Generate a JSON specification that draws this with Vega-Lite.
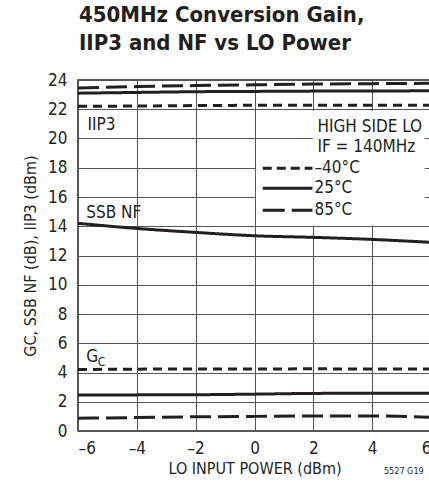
{
  "$schema": "https://vega.github.io/schema/vega-lite/v6.json",
  "autosize": {"type": "none"},
  "padding": {"left": 78, "top": 80, "right": 0, "bottom": 56},
  "width": 353,
  "height": 351,
  "background": "white",
  "title": {
    "text": ["450MHz Conversion Gain,", "IIP3 and NF vs LO Power"],
    "anchor": "start",
    "frame": "group",
    "font": "DejaVu Sans Condensed, DejaVu Sans, sans-serif",
    "fontSize": 22,
    "fontWeight": "bold",
    "lineHeight": 28,
    "color": "#231f20",
    "offset": 16,
    "dx": 1
  },
  "config": {
    "font": "DejaVu Sans Condensed, DejaVu Sans, sans-serif",
    "view": {"stroke": "#231f20", "strokeWidth": 1.5},
    "axis": {
      "domain": false,
      "ticks": false,
      "grid": true,
      "gridColor": "#555555",
      "gridWidth": 1,
      "gridOpacity": 1,
      "labelFontSize": 17,
      "labelColor": "#231f20",
      "labelOverlap": false,
      "titleFontSize": 16,
      "titleFontWeight": "normal",
      "titleColor": "#231f20"
    },
    "axisX": {"tickCount": 6, "labelPadding": 9, "titlePadding": 4},
    "axisY": {"tickCount": 12, "labelPadding": 11, "titlePadding": 9},
    "text": {"font": "DejaVu Sans Condensed, DejaVu Sans, sans-serif", "color": "#231f20"}
  },
  "datasets": {
    "curves": [
      {"series": "IIP3", "temp": "-40°C", "lo": -6, "v": 22.2},
      {"series": "IIP3", "temp": "-40°C", "lo": -4, "v": 22.22},
      {"series": "IIP3", "temp": "-40°C", "lo": -2, "v": 22.25},
      {"series": "IIP3", "temp": "-40°C", "lo": 0, "v": 22.27},
      {"series": "IIP3", "temp": "-40°C", "lo": 2, "v": 22.28},
      {"series": "IIP3", "temp": "-40°C", "lo": 4, "v": 22.28},
      {"series": "IIP3", "temp": "-40°C", "lo": 6, "v": 22.27},
      {"series": "IIP3", "temp": "25°C", "lo": -6, "v": 23.1},
      {"series": "IIP3", "temp": "25°C", "lo": -4, "v": 23.15},
      {"series": "IIP3", "temp": "25°C", "lo": -2, "v": 23.2},
      {"series": "IIP3", "temp": "25°C", "lo": 0, "v": 23.22},
      {"series": "IIP3", "temp": "25°C", "lo": 2, "v": 23.24},
      {"series": "IIP3", "temp": "25°C", "lo": 4, "v": 23.25},
      {"series": "IIP3", "temp": "25°C", "lo": 6, "v": 23.26},
      {"series": "IIP3", "temp": "85°C", "lo": -6, "v": 23.45},
      {"series": "IIP3", "temp": "85°C", "lo": -4, "v": 23.55},
      {"series": "IIP3", "temp": "85°C", "lo": -2, "v": 23.62},
      {"series": "IIP3", "temp": "85°C", "lo": 0, "v": 23.67},
      {"series": "IIP3", "temp": "85°C", "lo": 2, "v": 23.72},
      {"series": "IIP3", "temp": "85°C", "lo": 4, "v": 23.75},
      {"series": "IIP3", "temp": "85°C", "lo": 6, "v": 23.77},
      {"series": "NF", "temp": "25°C", "lo": -6, "v": 14.2},
      {"series": "NF", "temp": "25°C", "lo": -4, "v": 13.85},
      {"series": "NF", "temp": "25°C", "lo": -2, "v": 13.58},
      {"series": "NF", "temp": "25°C", "lo": 0, "v": 13.35},
      {"series": "NF", "temp": "25°C", "lo": 2, "v": 13.24},
      {"series": "NF", "temp": "25°C", "lo": 4, "v": 13.1},
      {"series": "NF", "temp": "25°C", "lo": 6, "v": 12.9},
      {"series": "GC", "temp": "-40°C", "lo": -6, "v": 4.2},
      {"series": "GC", "temp": "-40°C", "lo": -4, "v": 4.23},
      {"series": "GC", "temp": "-40°C", "lo": -2, "v": 4.24},
      {"series": "GC", "temp": "-40°C", "lo": 0, "v": 4.24},
      {"series": "GC", "temp": "-40°C", "lo": 2, "v": 4.25},
      {"series": "GC", "temp": "-40°C", "lo": 4, "v": 4.24},
      {"series": "GC", "temp": "-40°C", "lo": 6, "v": 4.24},
      {"series": "GC", "temp": "25°C", "lo": -6, "v": 2.46},
      {"series": "GC", "temp": "25°C", "lo": -4, "v": 2.47},
      {"series": "GC", "temp": "25°C", "lo": -2, "v": 2.48},
      {"series": "GC", "temp": "25°C", "lo": 0, "v": 2.52},
      {"series": "GC", "temp": "25°C", "lo": 2, "v": 2.57},
      {"series": "GC", "temp": "25°C", "lo": 4, "v": 2.58},
      {"series": "GC", "temp": "25°C", "lo": 6, "v": 2.58},
      {"series": "GC", "temp": "85°C", "lo": -6, "v": 0.87},
      {"series": "GC", "temp": "85°C", "lo": -4, "v": 0.92},
      {"series": "GC", "temp": "85°C", "lo": -2, "v": 0.97},
      {"series": "GC", "temp": "85°C", "lo": 0, "v": 1.0},
      {"series": "GC", "temp": "85°C", "lo": 2, "v": 1.03},
      {"series": "GC", "temp": "85°C", "lo": 4, "v": 1.03},
      {"series": "GC", "temp": "85°C", "lo": 6, "v": 0.94}
    ],
    "legend": [
      {"temp": "-40°C", "label": "–40°C"},
      {"temp": "25°C", "label": "25°C"},
      {"temp": "85°C", "label": "85°C"}
    ]
  },
  "layer": [
    {
      "data": {"name": "curves"},
      "mark": {"type": "line", "interpolate": "monotone", "strokeWidth": 3, "color": "#231f20", "clip": true},
      "encoding": {
        "x": {
          "field": "lo", "type": "quantitative",
          "scale": {"domain": [-6, 6], "nice": false, "zero": false},
          "axis": {"labelExpr": "replace(replace(datum.label, '−', '–'), '-', '–')", "title": "LO INPUT POWER (dBm)"}
        },
        "y": {
          "field": "v", "type": "quantitative",
          "scale": {"domain": [0, 24], "nice": false},
          "axis": {"title": "GC, SSB NF (dB), IIP3 (dBm)"}
        },
        "detail": {"field": "series"},
        "strokeDash": {
          "field": "temp", "type": "nominal",
          "scale": {"domain": ["-40°C", "25°C", "85°C"], "range": [[9, 6], [1, 0], [21, 7]]},
          "legend": null
        }
      }
    },
    {
      "data": {"values": [{}]},
      "mark": {"type": "rect", "color": "white"},
      "encoding": {"x": {"datum": 0.05}, "x2": {"datum": 5.78}, "y": {"datum": 14.05}, "y2": {"datum": 18.87}}
    },
    {
      "data": {"values": [{}]},
      "mark": {"type": "rect", "color": "white"},
      "encoding": {"x": {"datum": 1.98}, "x2": {"datum": 5.78}, "y": {"datum": 14.05}, "y2": {"datum": 21.9}}
    },
    {
      "data": {"name": "legend"},
      "transform": [{"filter": "datum.temp == '-40°C'"}],
      "mark": {"type": "rule", "strokeWidth": 3, "color": "#231f20", "strokeDash": [9, 5]},
      "encoding": {"x": {"datum": 0.28}, "x2": {"datum": 1.97}, "y": {"datum": 17.96}}
    },
    {
      "data": {"name": "legend"},
      "transform": [{"filter": "datum.temp == '25°C'"}],
      "mark": {"type": "rule", "strokeWidth": 3, "color": "#231f20"},
      "encoding": {"x": {"datum": 0.28}, "x2": {"datum": 1.97}, "y": {"datum": 16.59}}
    },
    {
      "data": {"name": "legend"},
      "transform": [{"filter": "datum.temp == '85°C'"}],
      "mark": {"type": "rule", "strokeWidth": 3, "color": "#231f20", "strokeDash": [22, 7]},
      "encoding": {"x": {"datum": 0.28}, "x2": {"datum": 1.97}, "y": {"datum": 15.1}}
    },
    {
      "data": {"name": "legend"},
      "transform": [{"filter": "datum.temp == '-40°C'"}],
      "mark": {"type": "text", "align": "left", "baseline": "middle", "fontSize": 17, "dx": 2},
      "encoding": {"x": {"datum": 1.97}, "y": {"datum": 17.96}, "text": {"field": "label"}}
    },
    {
      "data": {"name": "legend"},
      "transform": [{"filter": "datum.temp == '25°C'"}],
      "mark": {"type": "text", "align": "left", "baseline": "middle", "fontSize": 17, "dx": 2},
      "encoding": {"x": {"datum": 1.97}, "y": {"datum": 16.59}, "text": {"field": "label"}}
    },
    {
      "data": {"name": "legend"},
      "transform": [{"filter": "datum.temp == '85°C'"}],
      "mark": {"type": "text", "align": "left", "baseline": "middle", "fontSize": 17, "dx": 2},
      "encoding": {"x": {"datum": 1.97}, "y": {"datum": 15.1}, "text": {"field": "label"}}
    },
    {
      "data": {"values": [{}]},
      "mark": {"type": "text", "align": "left", "baseline": "middle", "fontSize": 17, "text": "HIGH SIDE LO"},
      "encoding": {"x": {"datum": 2.14}, "y": {"datum": 20.8}}
    },
    {
      "data": {"values": [{}]},
      "mark": {"type": "text", "align": "left", "baseline": "middle", "fontSize": 17, "text": "IF = 140MHz"},
      "encoding": {"x": {"datum": 2.14}, "y": {"datum": 19.43}}
    },
    {
      "data": {"values": [{}]},
      "mark": {"type": "text", "align": "left", "baseline": "middle", "fontSize": 17, "text": "IIP3"},
      "encoding": {"x": {"datum": -5.68}, "y": {"datum": 20.9}}
    },
    {
      "data": {"values": [{}]},
      "mark": {"type": "text", "align": "left", "baseline": "middle", "fontSize": 17, "text": "SSB NF"},
      "encoding": {"x": {"datum": -5.72}, "y": {"datum": 14.9}}
    },
    {
      "data": {"values": [{}]},
      "mark": {"type": "text", "align": "left", "baseline": "middle", "fontSize": 17, "text": "G"},
      "encoding": {"x": {"datum": -5.72}, "y": {"datum": 5.08}}
    },
    {
      "data": {"values": [{}]},
      "mark": {"type": "text", "align": "left", "baseline": "middle", "fontSize": 12, "text": "C"},
      "encoding": {"x": {"datum": -5.33}, "y": {"datum": 4.74}}
    },
    {
      "data": {"values": [{}]},
      "mark": {"type": "text", "align": "left", "baseline": "middle", "fontSize": 9, "text": "5527 G19", "dy": 40, "clip": false},
      "encoding": {"x": {"datum": 4.4}, "y": {"datum": 0}}
    }
  ]
}
